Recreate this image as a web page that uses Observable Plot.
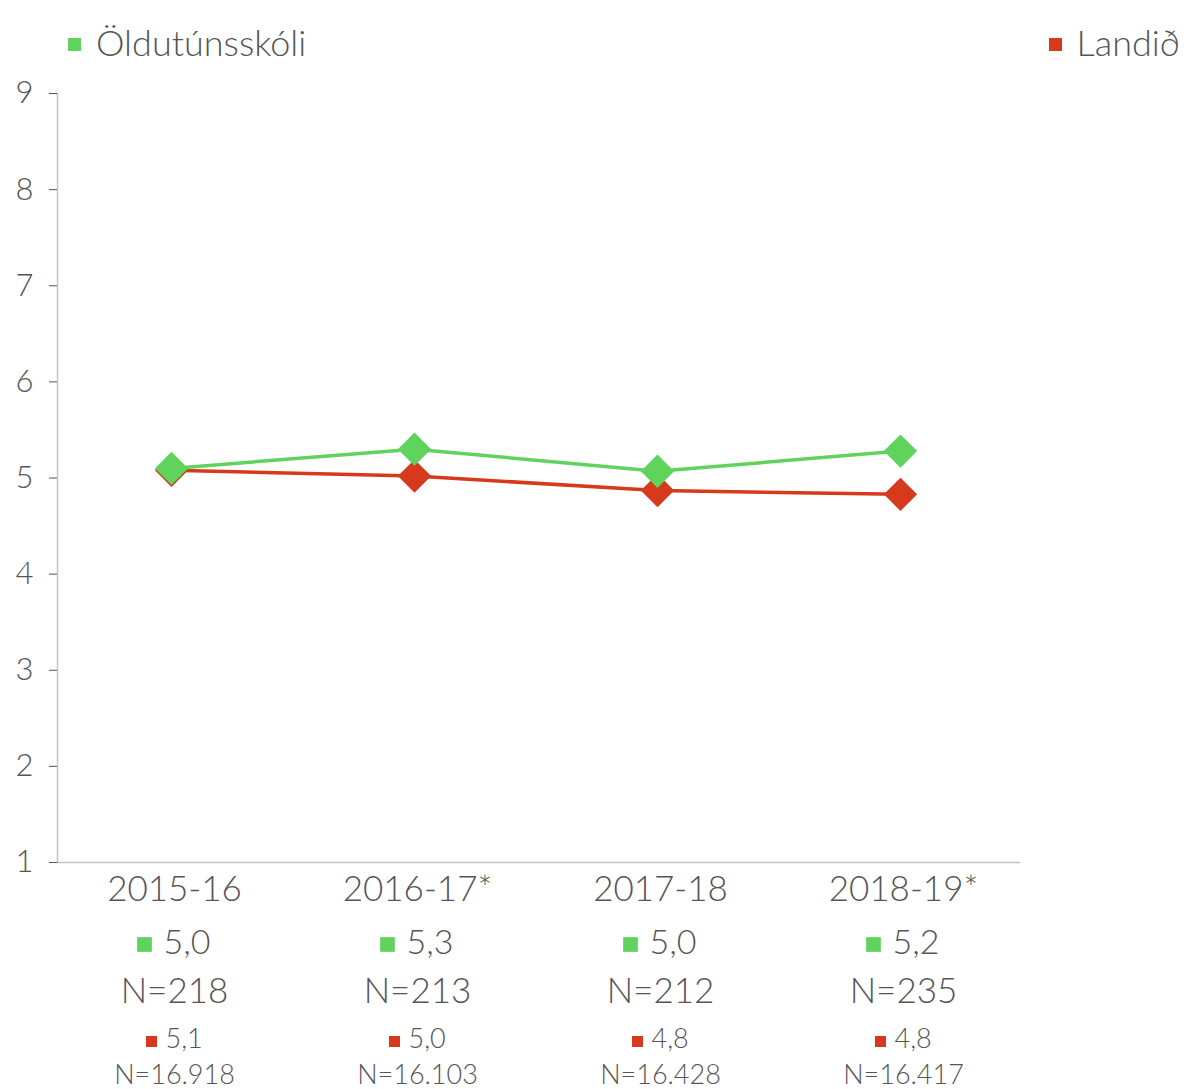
<!DOCTYPE html>
<html>
<head>
<meta charset="utf-8">
<script src="https://cdn.jsdelivr.net/npm/d3@7"></script>
<script src="https://cdn.jsdelivr.net/npm/@observablehq/plot@0.6"></script>
<style>
  html, body { margin: 0; padding: 0; background: #fff; }
  #wrap { width: 1186px; font-family: Lato, "Open Sans", sans-serif; font-weight: 300; color: #555; }
  #legend { position: relative; height: 70px; width: 1186px; }
  .item { position: absolute; top: 21px; font-size: 36px; line-height: 42px; white-space: nowrap; }
  .sw { display: inline-block; width: 13px; height: 13px; margin-right: 15px; vertical-align: 5px; }
</style>
</head>
<body>
<div id="wrap">
  <div id="legend"></div>
  <div id="chart"></div>
</div>
<script>
const years = ["2015-16", "2016-17*", "2017-18", "2018-19*"];
const schoolName = "Öldutúnsskóli";
const nationalName = "Landið";
const school = [5.10, 5.30, 5.07, 5.28];
const national = [5.08, 5.02, 4.87, 4.83];
const schoolLabel = ["5,0", "5,3", "5,0", "5,2"];
const schoolN = ["N=218", "N=213", "N=212", "N=235"];
const nationalLabel = ["5,1", "5,0", "4,8", "4,8"];
const nationalN = ["N=16.918", "N=16.103", "N=16.428", "N=16.417"];
const yTicks = [1, 2, 3, 4, 5, 6, 7, 8, 9];

const green = "#5fd35c";
const red = "#d6391b";
const textColor = "#555";

const rows = years.map((y, i) => ({
  year: y, school: school[i], national: national[i],
  sLabel: schoolLabel[i], sN: schoolN[i], nLabel: nationalLabel[i], nN: nationalN[i]
}));

// legend
const legend = document.getElementById("legend");
legend.innerHTML =
  `<div class="item" style="left:68px"><span class="sw" style="background:${green}"></span>${schoolName}</div>` +
  `<div class="item" style="right:6px"><span class="sw" style="background:${red}"></span>${nationalName}</div>`;

const chart = Plot.plot({
  width: 1186,
  height: 1019,
  marginTop: 23,
  marginLeft: 57,
  marginRight: 166,
  marginBottom: 227,
  style: { fontFamily: "Lato, 'Open Sans', sans-serif", fontWeight: 300, color: textColor, overflow: "visible" },
  x: { type: "point", domain: years, padding: 0.476, align: 0.487, axis: null },
  y: { domain: [1, 9] },
  marks: [
    Plot.ruleY([1], { stroke: "#c4c4c4", strokeWidth: 1.5 }),
    Plot.frame({ anchor: "left", stroke: "#c4c4c4", strokeWidth: 1.5 }),
    Plot.axisY({ ticks: yTicks, tickSize: 8, tickPadding: 16, fontSize: 31, stroke: "#555", label: null, tickFormat: d => d }),
    Plot.line(rows, { x: "year", y: "national", stroke: red, strokeWidth: 3.5 }),
    Plot.dot(rows, { x: "year", y: "national", symbol: "diamond2", r: 15, fill: red }),
    Plot.line(rows, { x: "year", y: "school", stroke: green, strokeWidth: 3.5 }),
    Plot.dot(rows, { x: "year", y: "school", symbol: "diamond2", r: 15, fill: green }),
    // category labels and value rows below the axis
    Plot.text(rows, { x: "year", text: "year", frameAnchor: "bottom", lineAnchor: "middle", dx: 3, dy: 27.5, fontSize: 35, fill: textColor }),
    Plot.dot(rows, { x: "year", frameAnchor: "bottom", dx: -27, dy: 82, symbol: "square", r: 8.3, fill: green }),
    Plot.text(rows, { x: "year", text: "sLabel", frameAnchor: "bottom", lineAnchor: "middle", dx: -8, dy: 80.5, textAnchor: "start", fontSize: 34, fill: textColor }),
    Plot.text(rows, { x: "year", text: "sN", frameAnchor: "bottom", lineAnchor: "middle", dx: 3, dy: 129.5, fontSize: 35, fill: textColor }),
    Plot.dot(rows, { x: "year", frameAnchor: "bottom", dx: -20, dy: 179, symbol: "square", r: 6.2, fill: red }),
    Plot.text(rows, { x: "year", text: "nLabel", frameAnchor: "bottom", lineAnchor: "middle", dx: -6, dy: 177, textAnchor: "start", fontSize: 27, fill: textColor }),
    Plot.text(rows, { x: "year", text: "nN", frameAnchor: "bottom", lineAnchor: "middle", dx: 3, dy: 213, fontSize: 27, fill: textColor })
  ]
});
document.getElementById("chart").appendChild(chart);
</script>
</body>
</html>
